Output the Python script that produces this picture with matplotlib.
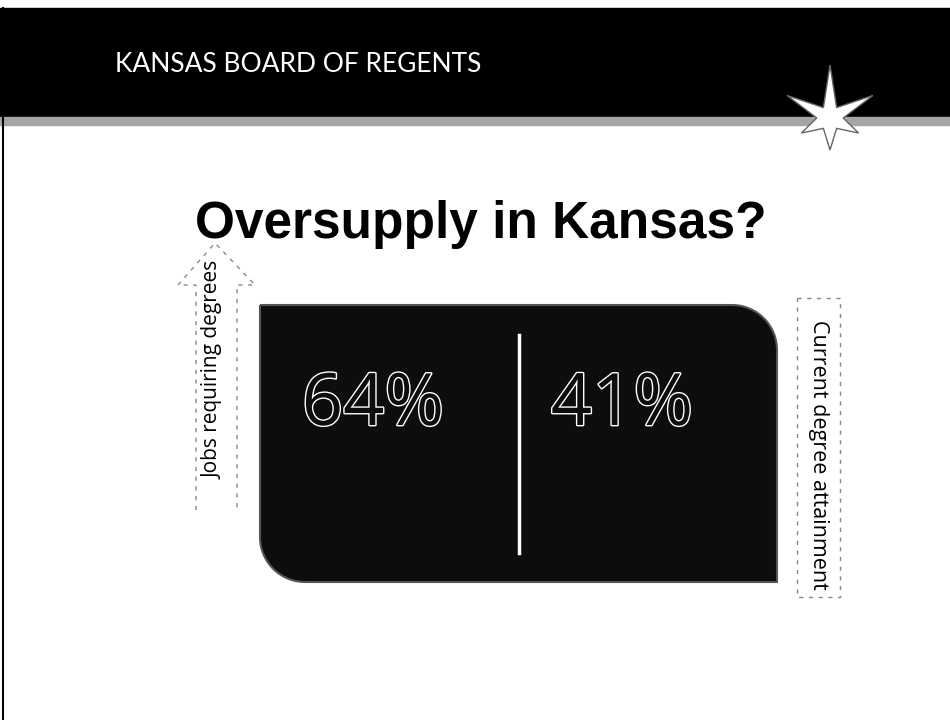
import numpy as np
import matplotlib
matplotlib.use("Agg")
import matplotlib.pyplot as plt
from matplotlib.path import Path
from matplotlib.patches import PathPatch, Rectangle, Polygon
import matplotlib.patheffects as pe

# slide content
header = "KANSAS BOARD OF REGENTS"
title = "Oversupply in Kansas?"
labels = ["Jobs requiring degrees", "Current degree attainment"]
values = [64, 41]

W, H = 950, 720
fig = plt.figure(figsize=(W / 100, H / 100), dpi=100)
ax = fig.add_axes([0, 0, 1, 1])
ax.set_xlim(0, W)
ax.set_ylim(H, 0)
ax.axis("off")

# banner
ax.add_patch(Rectangle((0, 8), W, 110, color="black", zorder=1))
ax.add_patch(Rectangle((0, 117), W, 8, color="#a5a5a5", zorder=1))
ax.plot([3, 3], [8, H], color="black", lw=1.5)
ax.text(115, 72, header, color="white", fontsize=19, family="Lato",
        va="baseline", ha="left")

# star
ang = np.deg2rad(np.arange(0, 360, 30) - 90)
rad = np.where(np.arange(12) % 2 == 0, 50, 12).astype(float)
rad[[0, 2, 10]] = [53, 45, 45]
rad[[4, 6, 8]] = [30, 32, 30]
star = np.column_stack([830 + rad * np.cos(ang) * 1.1, 118 + rad * np.sin(ang)])
ax.add_patch(Polygon(star, closed=True, facecolor="white", edgecolor="#666666",
                     lw=1, zorder=3))

ax.text(481, 238, title, fontsize=37, fontweight="bold", family="Liberation Sans",
        ha="center", va="baseline")

# dark box, two rounded corners
x0, x1, y0, y1, r = 260, 777, 305, 582, 45
t1 = np.linspace(-np.pi / 2, 0, 20)
t2 = np.linspace(np.pi / 2, np.pi, 20)
verts = [(x0, y0), (x1 - r, y0)]
verts += list(zip(x1 - r + r * np.cos(t1), y0 + r + r * np.sin(t1)))
verts += [(x1, y1), (x0 + r, y1)]
verts += list(zip(x0 + r + r * np.cos(t2), y1 - r + r * np.sin(t2)))
verts += [(x0, y0)]
ax.add_patch(PathPatch(Path(verts), facecolor="#0d0d0d", edgecolor="#555555",
                       lw=1.5, zorder=2))
ax.plot([519, 519], [335, 553], color="white", lw=2.5, zorder=3)

for xc, v in zip([373, 622], values):
    ax.text(xc, 425, f"{v}%", fontsize=52, family="Open Sans", color="#0d0d0d",
            ha="center", va="baseline", zorder=4,
            path_effects=[pe.withStroke(linewidth=2, foreground="white")])

# left arrow
arrow = [(196, 510), (196, 285), (178, 285), (215, 243), (255, 285),
         (237, 285), (237, 510)]
ax.add_patch(Polygon(arrow, closed=False, fill=False, edgecolor="#888888",
                     ls=(0, (3, 4)), lw=1, zorder=2))
ax.text(213, 370, labels[0], rotation=90, fontsize=15, family="Open Sans",
        ha="center", va="center")

# right box
ax.add_patch(Rectangle((797, 298), 43, 299, fill=False, edgecolor="#888888",
                       ls=(0, (3, 4)), lw=1))
ax.text(818, 455, labels[1], rotation=-90, fontsize=15.5, family="Open Sans",
        ha="center", va="center")

fig.savefig("out.png", dpi=100)
